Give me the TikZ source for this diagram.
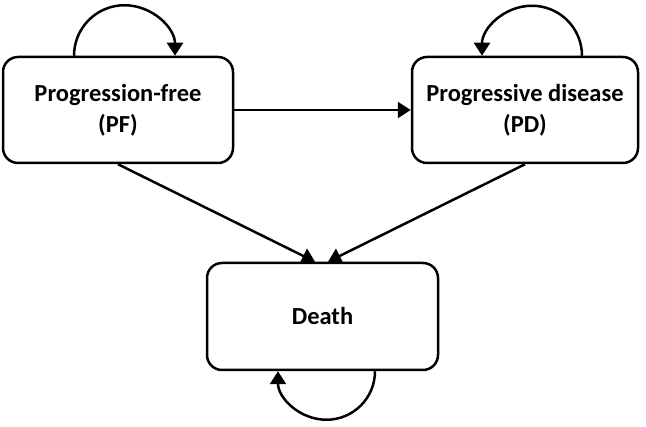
\documentclass[tikz,border=0pt]{standalone}
\usepackage{fontspec}
\setmainfont{Carlito}
\usetikzlibrary{arrows.meta}
\begin{document}
\begin{tikzpicture}[x=1pt,y=1pt,
  state/.style={draw, line width=2.5pt, rounded corners=15pt, align=center,
    font=\fontsize{24.5}{31}\selectfont\bfseries, inner sep=0pt},
  conn/.style={line width=2.5pt, -{Triangle[width=16pt,length=13pt]}}]
\useasboundingbox (0,0) rectangle (646,427);
\node[state, minimum width=230pt, minimum height=106pt] (pf) at (118,317) {Progression-free\\(PF)};
\node[state, minimum width=226pt, minimum height=106pt] (pd) at (525,317) {Progressive disease\\(PD)};
\node[state, minimum width=231pt, minimum height=107pt] (death) at (322.5,110.5) {Death};
\draw[conn] (pf) -- (pd);
\draw[conn] (pf.south) -- ([xshift=-7.5pt]death.north);
\draw[conn] (pd.south) -- ([xshift=5.5pt]death.north);
\draw[conn] ([xshift=-44pt]pf.north) arc[start angle=180, end angle=0, radius=50.5pt];
\draw[conn] ([xshift=57pt]pd.north) arc[start angle=0, end angle=180, radius=50pt];
\draw[conn] ([xshift=52.5pt]death.south) arc[start angle=0, end angle=-180, radius=48.5pt];
\end{tikzpicture}
\end{document}
